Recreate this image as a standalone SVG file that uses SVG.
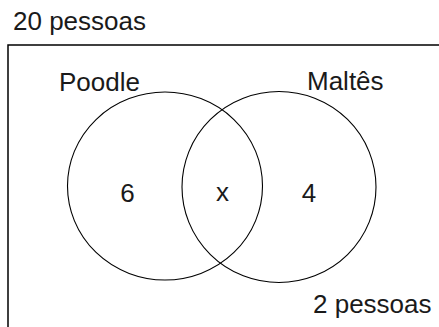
<svg xmlns="http://www.w3.org/2000/svg" width="439" height="327" viewBox="0 0 439 327">
<style>
text{font-family:"Liberation Sans",Arial,sans-serif;font-size:26px;fill:#1a1a1a}
.set{fill:none;stroke:#000;stroke-width:1.1}
.frame{fill:none;stroke:#000;stroke-width:1.5}
</style>
<rect id="universe" class="frame" x="8" y="45" width="440" height="300"/>
<text id="total" x="13" y="30">20 pessoas</text>
<g id="poodle">
<ellipse class="set" cx="165" cy="186" rx="97.5" ry="94"/>
<text x="59" y="91">Poodle</text>
</g>
<g id="maltes">
<ellipse class="set" cx="279" cy="187" rx="97" ry="95.5"/>
<text x="307" y="90">Maltês</text>
</g>
<g id="labels">
<text x="127.5" y="202" text-anchor="middle">6</text>
<text x="222.5" y="201" text-anchor="middle">x</text>
<text x="309" y="202" text-anchor="middle">4</text>
<text x="313" y="313">2 pessoas</text>
</g>
</svg>
